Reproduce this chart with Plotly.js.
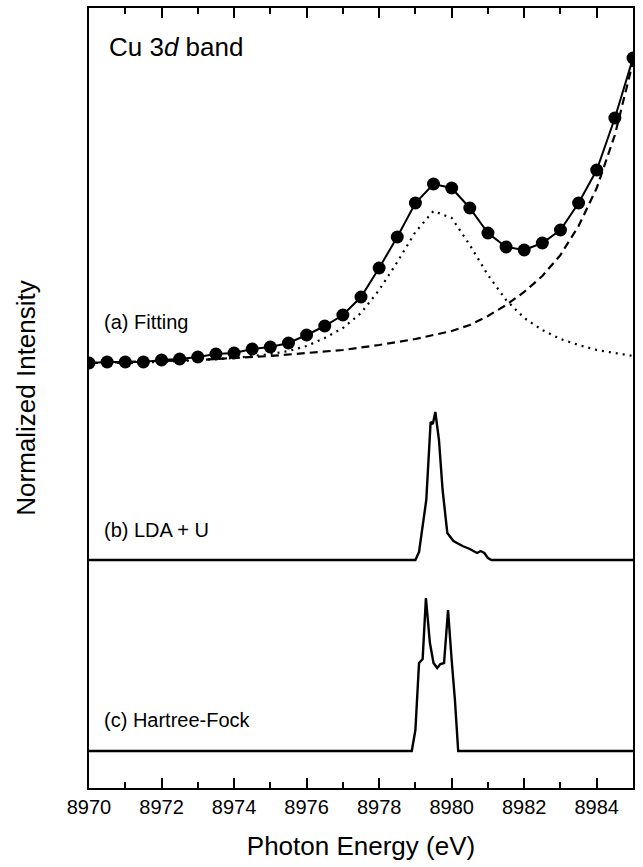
<!DOCTYPE html>
<html>
<head>
<meta charset="utf-8">
<script src="https://cdn.plot.ly/plotly-3.0.1.min.js"></script>
<style>html,body{margin:0;padding:0;background:#fff;}</style>
</head>
<body>
<div id="chart" style="width:643px;height:867px;"></div>
<script>
// Panel (a): experimental points (every 0.5 eV), relative intensity above panel baseline
const expEnergy = [8970,8970.5,8971,8971.5,8972,8972.5,8973,8973.5,8974,8974.5,8975,8975.5,8976,8976.5,8977,8977.5,8978,8978.5,8979,8979.5,8980,8980.5,8981,8981.5,8982,8982.5,8983,8983.5,8984,8984.5,8985];
const expIntensity = [-1,0,0,0,2,3,5,8,9,13,15,19,27,36,47,65,94,125,159,178,174,154,129,115,112,119,132,159,192,244,304];

// Lorentzian component (dotted)
const peakEnergy = [8970,8971,8972,8973,8974,8975,8975.5,8976,8976.5,8977,8977.5,8978,8978.5,8979,8979.5,8980,8980.5,8981,8981.5,8982,8982.5,8983,8983.5,8984,8984.5,8985];
const peakIntensity = [-1,-1,0,2,4,8,11,16,24,34,49,72,100,130,151,144,117,87,62,44,32,23,17,12,9,6];

// Background component (dashed)
const bgEnergy = [8970,8971,8972,8973,8974,8975,8976,8977,8978,8979,8980,8980.5,8981,8981.5,8982,8982.5,8983,8983.5,8984,8984.5,8985];
const bgIntensity = [-1,0,1,2,4,6,9,12,17,23,31,37,46,57,70,86,107,136,174,227,300];

// Panel (b): LDA + U
const ldaEnergy = [8970,8979.0,8979.1,8979.3,8979.42,8979.48,8979.55,8979.65,8979.75,8979.88,8980.05,8980.3,8980.5,8980.7,8980.8,8980.9,8981.0,8981.1,8985];
const ldaIntensity = [0,0,8,60,138,136,148,120,70,27,19,14,11,7,9,7,2,0,0];

// Panel (c): Hartree-Fock
const hfEnergy = [8970,8978.9,8979.0,8979.1,8979.2,8979.29,8979.4,8979.5,8979.6,8979.69,8979.79,8979.9,8980.0,8980.09,8980.18,8985];
const hfIntensity = [0,0,21,88,92,153,108,88,83,87,88,141,91,51,0,0];

// vertical offsets of the stacked panels (axis units)
const offsets = {a: 426, b: 228, c: 37};

const xTicks = [8970,8972,8974,8976,8978,8980,8982,8984];
const labels = ['(a) Fitting','(b) LDA + U','(c) Hartree-Fock'];

const add = (arr, off) => arr.map(v => v + off);
const FONT = 'Liberation Sans, Arial, Helvetica, sans-serif';

const traces = [
  {x: bgEnergy, y: add(bgIntensity, offsets.a), mode: 'lines',
   line: {color: '#000', width: 2.2, dash: '8px,5px'}},
  {x: peakEnergy, y: add(peakIntensity, offsets.a), mode: 'lines',
   line: {color: '#000', width: 2.2, dash: '2px,5px'}},
  {x: expEnergy, y: add(expIntensity, offsets.a), mode: 'lines+markers',
   line: {color: '#000', width: 2}, marker: {color: '#000', size: 13}},
  {x: ldaEnergy, y: add(ldaIntensity, offsets.b), mode: 'lines',
   line: {color: '#000', width: 2.4}},
  {x: hfEnergy, y: add(hfIntensity, offsets.c), mode: 'lines',
   line: {color: '#000', width: 2.4}}
];

const layout = {
  width: 643, height: 867,
  margin: {l: 89, r: 10, t: 8, b: 79},
  paper_bgcolor: '#fff', plot_bgcolor: '#fff',
  showlegend: false,
  font: {family: FONT, color: '#000'},
  xaxis: {
    range: [8970, 8985], tickvals: xTicks, ticktext: xTicks.map(String),
    ticks: 'inside', ticklen: 10, tickwidth: 2, tickcolor: '#000',
    showline: true, linewidth: 2, linecolor: '#000', mirror: 'ticks',
    showgrid: false, zeroline: false,
    minor: {dtick: 1, tick0: 8970, ticks: 'inside', ticklen: 6, tickwidth: 2, tickcolor: '#000', showgrid: false},
    tickfont: {size: 20, family: FONT},
    title: {text: 'Photon Energy (eV)', font: {size: 26, family: FONT}, standoff: 20}
  },
  yaxis: {
    range: [0, 780], showticklabels: false, ticks: '',
    showline: true, linewidth: 2, linecolor: '#000', mirror: true,
    showgrid: false, zeroline: false,
    title: {text: 'Normalized Intensity', font: {size: 26, family: FONT}, standoff: 44}
  },
  annotations: [
    {x: 8970.5, y: 741, xref: 'x', yref: 'y', xanchor: 'left', yanchor: 'middle', showarrow: false,
     text: 'Cu 3<i>d</i> band', font: {size: 26, family: FONT}},
    {x: 8970.35, y: 466, xref: 'x', yref: 'y', xanchor: 'left', yanchor: 'middle', showarrow: false,
     text: labels[0], font: {size: 20, family: FONT}},
    {x: 8970.35, y: 258, xref: 'x', yref: 'y', xanchor: 'left', yanchor: 'middle', showarrow: false,
     text: labels[1], font: {size: 20, family: FONT}},
    {x: 8970.35, y: 68, xref: 'x', yref: 'y', xanchor: 'left', yanchor: 'middle', showarrow: false,
     text: labels[2], font: {size: 20, family: FONT}}
  ]
};

Plotly.newPlot('chart', traces, layout, {displayModeBar: false, staticPlot: true});
</script>
</body>
</html>
